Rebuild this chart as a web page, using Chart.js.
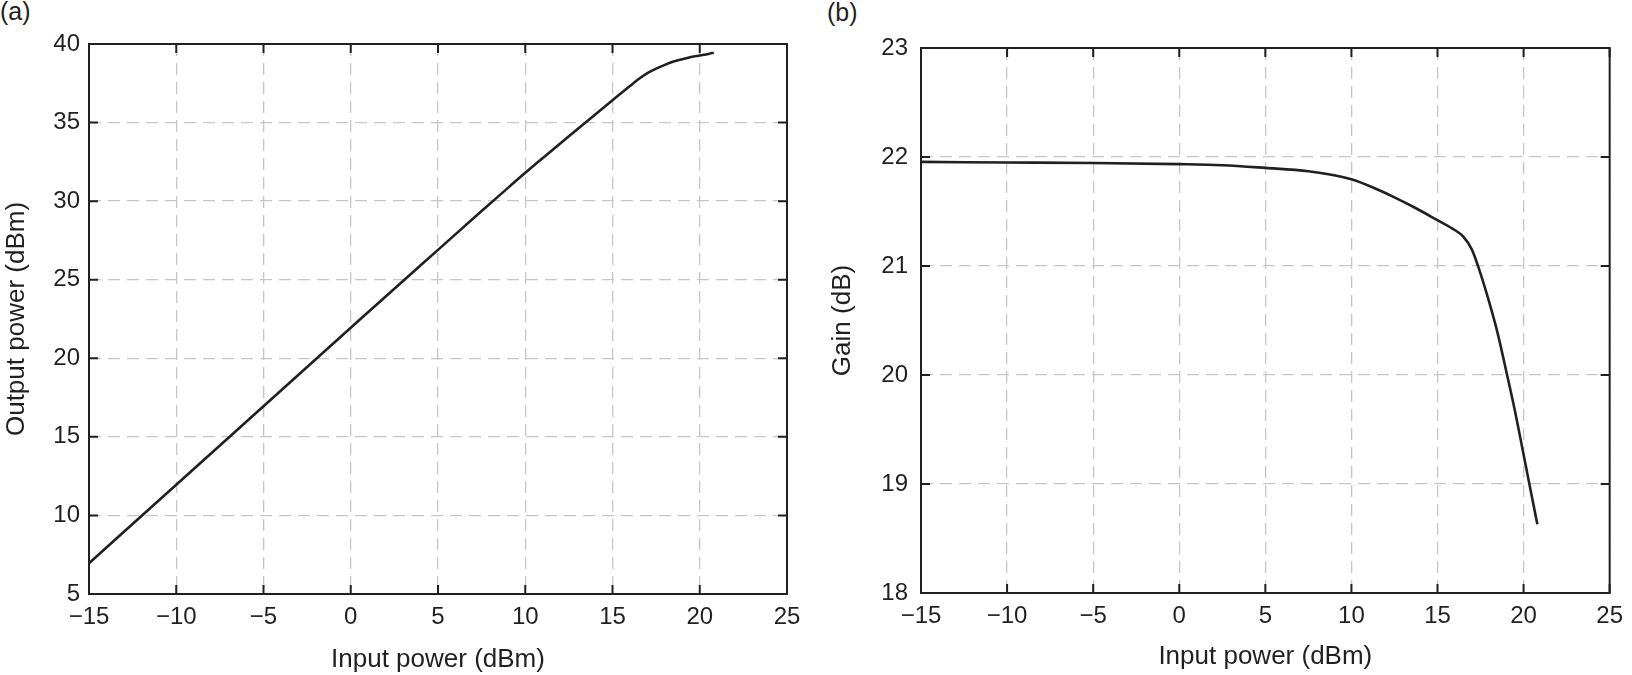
<!DOCTYPE html>
<html>
<head>
<meta charset="utf-8">
<script src="https://cdn.jsdelivr.net/npm/chart.js@4.4.1/dist/chart.umd.min.js"></script>
<style>
  body { margin: 0; background: #fff; width: 1632px; height: 675px; position: relative; overflow: hidden; }
  canvas { position: absolute; top: 0; }
  .tag { position: absolute; font: 25px 'Liberation Sans', Arial, sans-serif; color: #231f20; }
</style>
</head>
<body>
<div class="tag" style="left:0px; top:-3px;">(a)</div>
<div class="tag" style="left:827px; top:-2px;">(b)</div>
<canvas id="chartA" width="816" height="675" style="left:0px"></canvas>
<canvas id="chartB" width="816" height="675" style="left:816px"></canvas>
<script>
// input power (dBm), shared by both panels
const inputPower = [-15, -10, -5, 0, 2.5, 5, 7.5, 8.75, 10, 11.25, 12.5, 13.75, 15, 16, 16.5, 17, 17.5, 18, 18.5, 19, 19.5, 20, 20.5, 20.8];
// panel (a) output power (dBm)
const outputPower = [6.96, 11.95, 16.95, 21.94, 24.43, 26.9, 29.37, 30.59, 31.8, 32.97, 34.13, 35.28, 36.42, 37.33, 37.77, 38.15, 38.43, 38.67, 38.88, 39.03, 39.17, 39.27, 39.37, 39.45];
// panel (b) gain (dB)
const gain = [21.955, 21.95, 21.945, 21.935, 21.925, 21.9, 21.87, 21.84, 21.795, 21.72, 21.63, 21.53, 21.42, 21.33, 21.27, 21.15, 20.93, 20.67, 20.38, 20.03, 19.67, 19.27, 18.87, 18.63];

const xTicks = [-15, -10, -5, 0, 5, 10, 15, 20, 25];
const yTicksA = [5, 10, 15, 20, 25, 30, 35, 40];
const yTicksB = [18, 19, 20, 21, 22, 23];

const INK = '#231f20';
const FONT = "'Liberation Sans', Arial, sans-serif";

const fmt = v => (v < 0 ? '\u2212' + Math.abs(v) : String(v));

// MATLAB-like box with inward ticks on all four sides
const boxPlugin = {
    id: 'box',
    afterDraw(chart) {
        const { ctx, chartArea: a, scales: { x, y } } = chart;
        ctx.save();
        ctx.strokeStyle = INK;
        ctx.lineWidth = 2;
        ctx.strokeRect(a.left, a.top, a.right - a.left, a.bottom - a.top);
        ctx.beginPath();
        x.ticks.forEach(t => {
            const px = x.getPixelForValue(t.value);
            ctx.moveTo(px, a.bottom); ctx.lineTo(px, a.bottom - 9);
            ctx.moveTo(px, a.top); ctx.lineTo(px, a.top + 9);
        });
        y.ticks.forEach(t => {
            const py = y.getPixelForValue(t.value);
            ctx.moveTo(a.left, py); ctx.lineTo(a.left + 9, py);
            ctx.moveTo(a.right, py); ctx.lineTo(a.right - 9, py);
        });
        ctx.stroke();
        ctx.restore();
    }
};

function makeChart(id, yVals, yTicks, yTitle, opt) {
    const pts = inputPower.map((v, i) => ({ x: v, y: yVals[i] }));
    const grid = { color: '#c6c6ca', lineWidth: 1.3, drawTicks: false };
    const border = { display: false, dash: [12, 7] };
    return new Chart(document.getElementById(id), {
        type: 'line',
        data: {
            datasets: [{
                data: pts,
                borderColor: INK,
                borderWidth: 2.6,
                pointRadius: 0,
                cubicInterpolationMode: 'monotone',
                fill: false
            }]
        },
        options: {
            responsive: false,
            devicePixelRatio: 1,
            animation: false,
            layout: { padding: { top: opt.top, right: opt.right, left: 0, bottom: 0 } },
            plugins: { legend: { display: false }, tooltip: { enabled: false } },
            scales: {
                x: {
                    type: 'linear',
                    min: -15, max: 25,
                    afterBuildTicks: s => { s.ticks = xTicks.map(v => ({ value: v })); },
                    afterFit: s => { s.height = opt.xh; },
                    grid, border,
                    ticks: { color: INK, font: { family: FONT, size: 24 }, padding: 9, maxRotation: 0, callback: fmt },
                    title: { display: true, text: 'Input power (dBm)', color: INK, font: { family: FONT, size: 26 }, padding: { bottom: opt.xtpad } }
                },
                y: {
                    min: yTicks[0], max: yTicks[yTicks.length - 1],
                    afterBuildTicks: s => { s.ticks = yTicks.map(v => ({ value: v })); },
                    afterFit: s => { s.width = opt.yw; },
                    grid, border,
                    ticks: { color: INK, font: { family: FONT, size: 24 }, padding: opt.ypad, callback: fmt },
                    title: { display: true, text: yTitle, color: INK, font: { family: FONT, size: 26 }, padding: { top: opt.ytpad } }
                }
            }
        },
        plugins: [boxPlugin]
    });
}

makeChart('chartA', outputPower, yTicksA, 'Output power (dBm)', { top: 44, right: 29, xh: 81, yw: 89, ypad: 9, xtpad: 0, ytpad: 1 });
makeChart('chartB', gain, yTicksB, 'Gain (dB)', { top: 48, right: 17, xh: 82, yw: 105, ypad: 13, xtpad: 3, ytpad: 11 });
</script>
</body>
</html>
